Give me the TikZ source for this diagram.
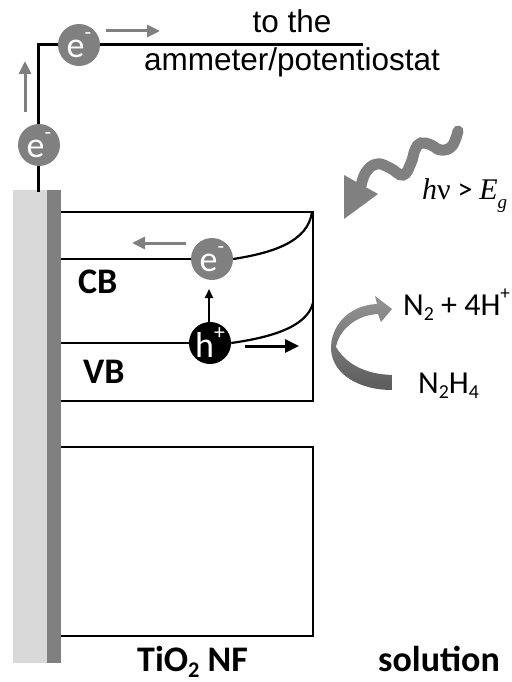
\documentclass[tikz,border=0pt]{standalone}
\usepackage{fontspec}
\setmainfont{Carlito}
\newfontfamily\arialf{Liberation Sans}
\newfontfamily\timesf{Liberation Serif}
\usetikzlibrary{arrows.meta}
\definecolor{lgray}{HTML}{D9D9D9}
\definecolor{mgray}{HTML}{808080}
\newcommand\mysup[1]{\raisebox{0.5em}{\fontsize{0.6em}{0.6em}\selectfont #1}}
\newcommand\mysub[1]{\raisebox{-0.18em}{\fontsize{0.62em}{0.62em}\selectfont #1}}
\begin{document}
\begin{tikzpicture}[x=1pt,y=-1pt,
  carrier/.style={circle,minimum size=42pt,inner sep=0pt,text=white,font=\fontsize{36}{36}\selectfont},
  elec/.style={carrier,fill=mgray},
  hole/.style={carrier,fill=black},
  wire/.style={line width=3pt,line cap=rect},
  band/.style={line width=2.2pt},
  garrow/.style={line width=3pt,draw=mgray,-{Triangle[length=13pt,width=12pt]}},
  barrow/.style={line width=2pt,-{Triangle[length=9pt,width=8pt]}},
  barrowb/.style={line width=3pt,-{Triangle[length=14pt,width=13pt]}},
  boldlab/.style={font=\bfseries\fontsize{36}{36}\selectfont,inner sep=0pt},
  reglab/.style={font=\fontsize{32}{32}\selectfont,inner sep=0pt},
  ariallab/.style={font=\arialf\fontsize{31.5}{31.5}\selectfont,inner sep=0pt}
]
\useasboundingbox (0,0) rectangle (511,682);

% electrode
\fill[lgray] (13,190) rectangle (47,663);
\fill[mgray] (47,190) rectangle (61,663);

% wire
\coordinate (wbot) at (38,190);
\coordinate (wcorner) at (38,45);
\coordinate (wend) at (361,45);
\draw[wire] (wbot) -- (wcorner) -- (wend);

% text top
\node[ariallab,anchor=base] (tothe) at (292,33) {to the};
\node[ariallab,anchor=base] (amm) at (292,71) {ammeter/potentiostat};

% upper box
\coordinate (b1tl) at (61,212);
\coordinate (b1tr) at (313,212);
\coordinate (b1br) at (313,401);
\coordinate (b1bl) at (61,401);
\draw[band] (b1tl) -- (b1tr) -- (b1br) -- (b1bl);

% lower box
\coordinate (b2tl) at (61,447);
\coordinate (b2tr) at (313,447);
\coordinate (b2br) at (313,636);
\coordinate (b2bl) at (61,636);
\draw[band] (b2tl) -- (b2tr) -- (b2br) -- (b2bl);

% carriers
\node[elec] (e1) at (79,45) {e\mysup{-}};
\node[elec] (e2) at (39,145) {e\mysup{-}};
\node[elec] (e3) at (212,259) {e\mysup{-}};
\node[hole] (h) at (210,343) {h\mysup{+}};

% band lines
\coordinate (cbl) at (61,259);
\coordinate (vbl) at (61,343);
\coordinate (cbr) at (312,212);
\coordinate (vbr) at (313,303);
\draw[band] (cbl) -- (e3.west);
\draw[band] (e3.east) .. controls (272,253) and (308,242) .. (cbr);
\draw[band] (vbl) -- (h.west);
\draw[band] (h.east) .. controls (274,337) and (307,326) .. (vbr);

% gray arrows
\coordinate (ga1s) at (25,112);
\coordinate (ga1e) at (25,61);
\draw[garrow] (ga1s) -- (ga1e);
\coordinate (ga2s) at (106,31);
\coordinate (ga2e) at (160,31);
\draw[garrow] (ga2s) -- (ga2e);
\coordinate (ga3s) at (186,243);
\coordinate (ga3e) at (132,243);
\draw[garrow] (ga3s) -- (ga3e);

% black arrows
\coordinate (ba1e) at (209,289);
\draw[barrow] (h.north -| ba1e) -- (ba1e);
\coordinate (ba2s) at (245,346);
\coordinate (ba2e) at (299,346);
\draw[barrowb] (ba2s) -- (ba2e);

% labels
\node[boldlab,anchor=base west] (cb) at (78,293) {CB};
\node[boldlab,anchor=base west] (vb) at (83,383) {VB};
\node[boldlab,anchor=base west] (tio) at (137,671) {TiO\mysub{2} NF};
\node[boldlab,anchor=base west] (sol) at (378,671) {solution};

% photon
\draw[mgray,line width=11pt,line cap=round] plot[smooth,tension=0.75] coordinates
  {(361,186) (366,172) (377,164) (390,168) (403,175) (411,163) (415,150) (421,143) (431,145) (441,150) (452,146) (458,131)};
\fill[mgray] (344,175) -- (378,194) -- (344,219) -- cycle;
\node[inner sep=0pt,anchor=base west,font=\fontsize{30}{30}\selectfont] (hv) at (422,199)
  {{\timesf\itshape h}{\timesf ν} > {\timesf\itshape E}\raisebox{-0.3em}{\timesf\itshape\fontsize{19}{19}\selectfont g}};

% reaction
\node[reglab,anchor=base west] (prod) at (403,315) {N\mysub{2} + 4H\mysup{+}};
\node[reglab,anchor=base west] (reac) at (418,393) {N\mysub{2}H\mysub{4}};
\shade[top color=black!42,bottom color=black!64]
  (392,390) .. controls (360,390) and (333,375) .. (331,350)
  .. controls (330,325) and (350,305) .. (377,304)
  -- (375,296) -- (392,309) -- (381,322) -- (378,314)
  .. controls (356,315) and (339,330) .. (336,347)
  .. controls (345,362) and (362,374) .. (392,375) -- cycle;
\end{tikzpicture}
\end{document}
